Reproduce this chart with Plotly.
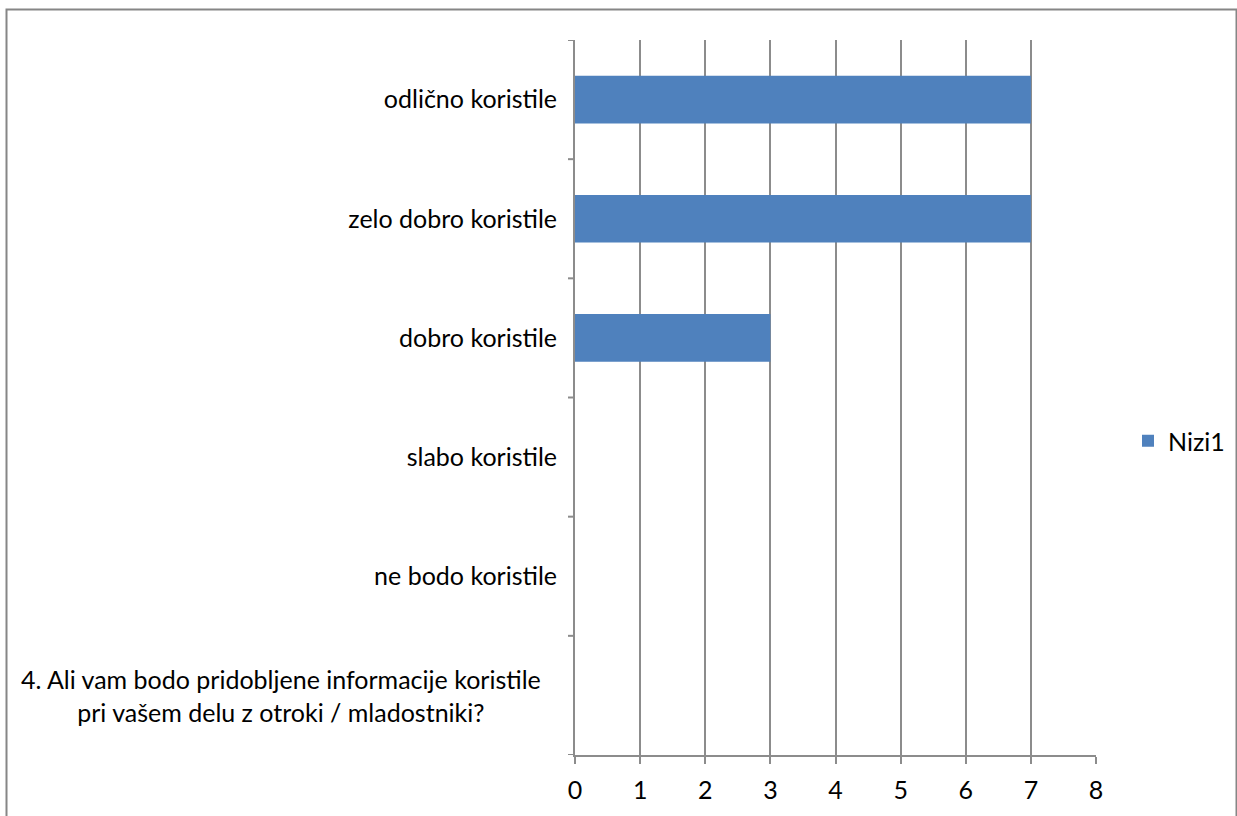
import plotly.graph_objects as go

categories = [
    "4. Ali vam bodo pridobljene informacije koristile<br>pri vašem delu z otroki / mladostniki?",
    "ne bodo koristile",
    "slabo koristile",
    "dobro koristile",
    "zelo dobro koristile",
    "odlično koristile",
]
values = [None, 0, 0, 3, 7, 7]
series_name = "Nizi1"
x_ticks = [0, 1, 2, 3, 4, 5, 6, 7, 8]

W, H = 1237, 816
# plot area in screen pixels
SX0, SX1, SY0, SY1 = 575, 1096, 40, 755
L, R, T, B = SX0, W - SX1, SY0, H - SY1
pw, ph = SX1 - SX0, SY1 - SY0

def px_x(p):
    return (p - SX0) / pw

def px_y(p):
    return (SY1 - p) / ph

FONT = "Lato"
FS = 25
GRID = "#8C8C8C"

fig = go.Figure()
fig.add_trace(go.Bar(
    y=list(range(len(categories))), x=values, orientation="h",
    name=series_name, marker=dict(color="#4F81BD", line=dict(width=0)),
    showlegend=True,
))

ticktext = [c if "<br>" not in c else "" for c in categories]

fig.update_layout(
    width=W, height=H,
    margin=dict(l=L, r=R, t=T, b=B, autoexpand=False),
    paper_bgcolor="white", plot_bgcolor="white",
    bargap=0.6,
    font=dict(family=FONT, size=FS, color="#000000"),
    showlegend=True,
    legend=dict(x=px_x(1128), y=px_y(441), xanchor="left", yanchor="middle",
                font=dict(family=FONT, size=FS), bgcolor="rgba(0,0,0,0)",
                itemwidth=30),
    xaxis=dict(range=[0, 8], tickvals=x_ticks, ticktext=[str(v) for v in x_ticks],
               showgrid=True, gridcolor=GRID, gridwidth=2,
               showline=True, linecolor=GRID, linewidth=2,
               ticks="outside", ticklen=7, tickcolor=GRID, tickwidth=2,
               ticklabelstandoff=5,
               zeroline=False, tickfont=dict(size=FS)),
    yaxis=dict(range=[-0.5, len(categories) - 0.5],
               tickmode="array", tickvals=list(range(len(categories))), ticktext=ticktext,
               showgrid=False, showline=True, linecolor=GRID, linewidth=2,
               ticks="", ticklabelstandoff=11, zeroline=False, tickfont=dict(size=FS)),
)

# boundary tick marks on the category axis
for i in range(len(categories) + 1):
    fig.add_shape(type="line", xref="paper", yref="y",
                  x0=px_x(568), x1=0, y0=i - 0.5, y1=i - 0.5,
                  line=dict(color=GRID, width=2))

# wrapped bottom label, centred lines
for i, c in enumerate(categories):
    if "<br>" in c:
        fig.add_annotation(xref="paper", yref="y", x=px_x(543), y=i,
                           text=c, showarrow=False, xanchor="right", yanchor="middle",
                           align="center", font=dict(family=FONT, size=FS))

# outer chart border
fig.add_shape(type="rect", xref="paper", yref="paper",
              x0=px_x(6.5), x1=px_x(1236.5), y0=px_y(830), y1=px_y(9.5),
              line=dict(color="#868686", width=2), fillcolor="rgba(0,0,0,0)", layer="below")

fig.write_html("out.html", config={"displayModeBar": False},
               post_script="document.body.style.margin='0';document.body.style.overflow='hidden';")
